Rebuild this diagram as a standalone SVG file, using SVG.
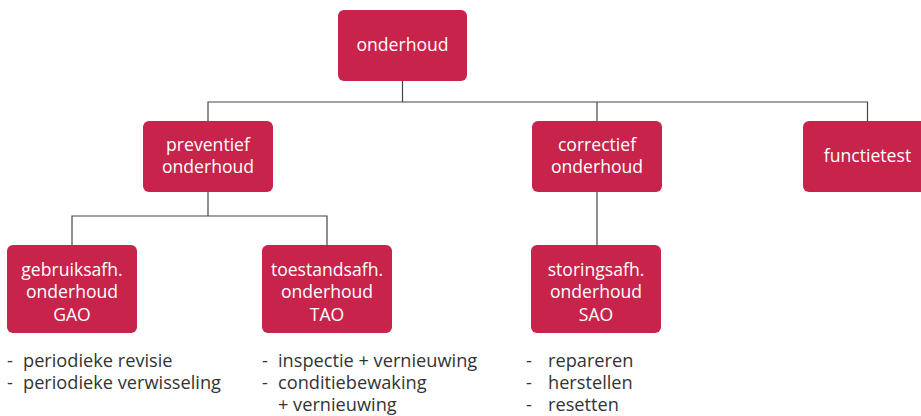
<svg xmlns="http://www.w3.org/2000/svg" width="921" height="416" viewBox="0 0 921 416">
  <style>
    .box { fill: #C8234A; }
    .lbl { font-family: "Open Sans", "Noto Sans", "Liberation Sans", sans-serif; font-size: 17.6px; fill: #ffffff; text-anchor: middle; }
    .lst { font-family: "Open Sans", "Noto Sans", "Liberation Sans", sans-serif; font-size: 18.2px; fill: #333333; }
    .wire { fill: none; stroke: #444444; stroke-width: 1.2; }
  </style>
  <rect width="921" height="416" fill="#ffffff"/>

  <!-- connectors -->
  <g id="connectors">
    <path class="wire" d="M402.5,81 V102"/>
    <path class="wire" d="M208,121 V102 H867.5 V121"/>
    <path class="wire" d="M597,102 V121"/>
    <path class="wire" d="M208,192 V216"/>
    <path class="wire" d="M72,245 V216 H327 V245"/>
    <path class="wire" d="M597,192 V245"/>
  </g>

  <!-- top level -->
  <g id="onderhoud">
    <rect class="box" x="338" y="10" width="129" height="71" rx="6"/>
    <text class="lbl" x="402.5" y="51">onderhoud</text>
  </g>

  <!-- second level -->
  <g id="preventief">
    <rect class="box" x="143" y="121" width="130" height="71" rx="6"/>
    <text class="lbl" x="208" y="151">preventief</text>
    <text class="lbl" x="208" y="173">onderhoud</text>
  </g>
  <g id="correctief">
    <rect class="box" x="532" y="121" width="130" height="71" rx="6"/>
    <text class="lbl" x="597" y="151">correctief</text>
    <text class="lbl" x="597" y="173">onderhoud</text>
  </g>
  <g id="functietest">
    <rect class="box" x="803" y="121" width="130" height="71" rx="6"/>
    <text class="lbl" x="867.5" y="162">functietest</text>
  </g>

  <!-- third level -->
  <g id="gao">
    <rect class="box" x="7" y="245" width="130" height="88" rx="6"/>
    <text class="lbl" x="72" y="276">gebruiksafh.</text>
    <text class="lbl" x="72" y="298">onderhoud</text>
    <text class="lbl" x="72" y="321">GAO</text>
  </g>
  <g id="tao">
    <rect class="box" x="262" y="245" width="130" height="88" rx="6"/>
    <text class="lbl" x="327" y="276">toestandsafh.</text>
    <text class="lbl" x="327" y="298">onderhoud</text>
    <text class="lbl" x="327" y="321">TAO</text>
  </g>
  <g id="sao">
    <rect class="box" x="531" y="245" width="130" height="88" rx="6"/>
    <text class="lbl" x="596" y="276">storingsafh.</text>
    <text class="lbl" x="596" y="298">onderhoud</text>
    <text class="lbl" x="596" y="321">SAO</text>
  </g>

  <!-- activity lists -->
  <g id="gao-list" class="lst">
    <text x="7" y="367">-</text><text x="23" y="367">periodieke revisie</text>
    <text x="7" y="389">-</text><text x="23" y="389">periodieke verwisseling</text>
  </g>
  <g id="tao-list" class="lst">
    <text x="262" y="367">-</text><text x="278" y="367">inspectie + vernieuwing</text>
    <text x="262" y="389">-</text><text x="278" y="389">conditiebewaking</text>
    <text x="278" y="411">+ vernieuwing</text>
  </g>
  <g id="sao-list" class="lst">
    <text x="526" y="367">-</text><text x="548" y="367">repareren</text>
    <text x="526" y="389">-</text><text x="548" y="389">herstellen</text>
    <text x="526" y="411">-</text><text x="548" y="411">resetten</text>
  </g>
</svg>
